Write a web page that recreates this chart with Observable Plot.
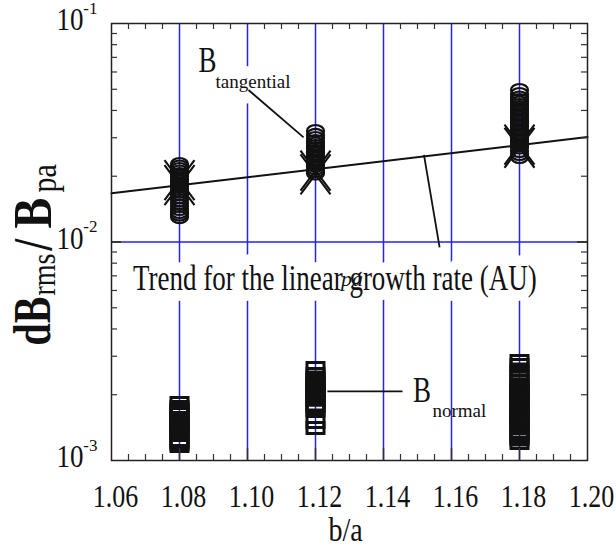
<!DOCTYPE html>
<html><head><meta charset="utf-8">
<script src="https://cdn.jsdelivr.net/npm/d3@7"></script>
<script src="https://cdn.jsdelivr.net/npm/@observablehq/plot@0.6"></script>
<style>html,body{margin:0;padding:0;background:#fff}</style>
</head><body><div id="chart"></div>
<script>
// ---- data ----
const xTicks = [1.06, 1.08, 1.10, 1.12, 1.14, 1.16, 1.18, 1.20];
const gridX = [1.08, 1.10, 1.12, 1.14, 1.16, 1.18];
const minorX = [1.065,1.07,1.075,1.085,1.09,1.095,1.105,1.11,1.115,1.125,1.13,1.135,1.145,1.15,1.155,1.165,1.17,1.175,1.185,1.19,1.195];
const yDecades = [0.1, 0.01, 0.001];
const yExponents = ["-1", "-2", "-3"];
const yMinor = [0.002,0.003,0.004,0.005,0.006,0.007,0.008,0.009,0.02,0.03,0.04,0.05,0.06,0.07,0.08,0.09];

const bA = [1.08, 1.12, 1.18];
// B tangential, open circles
const tanCircles = [
  [0.02275,0.02216,0.02158,0.02102,0.02047,0.01994,0.01942,0.01892,0.01842,0.01795,0.01748,0.01703,0.01659,0.01607,0.01557,0.01508,0.01462,0.01416,0.01372,0.01336,0.01301],
  [0.03221,0.03089,0.02992,0.02899,0.02823,0.0275,0.02679,0.02609,0.02541,0.02475,0.02411,0.02348,0.02287,0.02228,0.0217,0.02113,0.02058],
  [0.04963,0.04758,0.04585,0.04466,0.0435,0.04236,0.04126,0.04019,0.03914,0.03813,0.03714,0.03617,0.03523,0.03431,0.03342,0.03255,0.03171,0.03089,0.03008,0.0293,0.02854,0.0278,0.02707,0.02609,0.02528,0.02449]
];
// B tangential, crosses
const tanCrosses = [
  [0.0192, 0.0182],
  [0.0212, 0.0204],
  [0.0279, 0.0270]
];
// B normal, open squares
const normSquares = [
  [0.001833,0.001758,0.001721,0.001685,0.00165,0.001565,0.001532,0.0015,0.001469,0.001438,0.001408,0.001379,0.00135,0.001322,0.001241,0.001215,0.00119,0.001165],
  [0.002651,0.002489,0.002398,0.002348,0.002299,0.002251,0.002204,0.002158,0.002113,0.002069,0.002026,0.001984,0.001942,0.001902,0.001804,0.001767,0.00173,0.001694,0.0015,0.001408],
  [0.002854,0.002736,0.002609,0.002502,0.002398,0.002299,0.002204,0.002158,0.002113,0.002069,0.002026,0.001984,0.001942,0.001902,0.001862,0.001823,0.001712,0.001676,0.001641,0.001607,0.001573,0.00154,0.001508,0.001477,0.001446,0.001416,0.001329,0.001301,0.001274,0.001248,0.001202]
];
const trendX = [1.06, 1.20];
const trendY = [0.0167, 0.0302];

// annotation pointers
const ptrX1 = [1.1003, 1.1519, 1.1235];
const ptrY1 = [0.0496, 0.02505, 0.00207];
const ptrX2 = [1.1165, 1.1565, 1.1456];
const ptrY2 = [0.0301, 0.00944, 0.00207];

// ---- helpers ----
const flat = (xs, vs) => xs.flatMap((x, i) => vs[i].map(v => ({x, v})));
const circles = flat(bA, tanCircles);
const crosses = flat(bA, tanCrosses);
const squares = flat(bA, normSquares);
const trend = trendX.map((x, i) => ({x, y: trendY[i]}));
const pointers = ptrX1.map((x, i) => ({x1: x, y1: ptrY1[i], x2: ptrX2[i], y2: ptrY2[i]}));

const K = 0.5523;
const ellipseSymbol = {draw(c) {
  const rx = 8.5, ry = 6;
  c.moveTo(rx, 0);
  c.bezierCurveTo(rx, ry*K, rx*K, ry, 0, ry);
  c.bezierCurveTo(-rx*K, ry, -rx, ry*K, -rx, 0);
  c.bezierCurveTo(-rx, -ry*K, -rx*K, -ry, 0, -ry);
  c.bezierCurveTo(rx*K, -ry, rx, -ry*K, rx, 0);
  c.closePath();
}};
const crossSymbol = {draw(c) {
  c.moveTo(-15, -20); c.lineTo(15, 20);
  c.moveTo(-15, 20); c.lineTo(15, -20);
}};
const rectSymbol = {draw(c) { c.rect(-8.5, -5.5, 17, 11); }};

const W = 616, H = 553, ML = 111, MR = 29, MT = 23, MB = 93;
const innerW = W - ML - MR, innerH = H - MT - MB;
const midY = MT + innerH / 2;
const blue = "#2222f2", ink = "#111";
const serif = "'Liberation Serif', 'Times New Roman', serif";
const st = s => () => "stretch:" + s;

const svg = Plot.plot({
  width: W, height: H,
  marginLeft: ML, marginRight: MR, marginTop: MT, marginBottom: MB,
  style: {background: "#fff", fontFamily: serif, fontSize: "26px", color: ink},
  x: {domain: [1.06, 1.20], axis: null},
  y: {type: "log", domain: [0.001, 0.1], axis: null},
  marks: [
    Plot.ruleX(gridX, {stroke: blue, strokeWidth: 1.5}),
    Plot.ruleY([0.01], {stroke: blue, strokeWidth: 1.5, insetLeft: 10, insetRight: 10}),
    Plot.line(trend, {x: "x", y: "y", stroke: ink, strokeWidth: 2}),
    // annotation texts
    Plot.text(["Trend for the linear growth rate (AU)"], {x: 1.1257, y: 0.00684, text: d => d, fontFamily: serif, fontSize: 27, textAnchor: "middle", lineAnchor: "middle", fill: ink, stroke: "white", strokeWidth: 16, paintOrder: "stroke", ariaLabel: st(1.35)}),
    Plot.text(["pa"], {x: 1.1307, y: 0.00674, text: d => d, fontFamily: serif, fontSize: 22, fontStyle: "italic", textAnchor: "middle", lineAnchor: "middle", fill: ink}),
    Plot.text(["tangential"], {x: 1.0906, y: 0.0543, text: d => d, fontFamily: serif, fontSize: 19, textAnchor: "start", lineAnchor: "middle", fill: ink, stroke: "white", strokeWidth: 24, paintOrder: "stroke"}),
    Plot.text(["B"], {x: 1.0882, y: 0.0681, text: d => d, fontFamily: serif, fontSize: 27, textAnchor: "middle", lineAnchor: "middle", fill: ink, ariaLabel: st(1.35)}),
    Plot.text(["B"], {x: 1.1513, y: 0.0021, text: d => d, fontFamily: serif, fontSize: 27, textAnchor: "middle", lineAnchor: "middle", fill: ink, ariaLabel: st(1.35)}),
    Plot.text(["normal"], {x: 1.1544, y: 0.00169, text: d => d, fontFamily: serif, fontSize: 19, textAnchor: "start", lineAnchor: "middle", fill: ink}),
    Plot.link(pointers, {x1: "x1", y1: "y1", x2: "x2", y2: "y2", stroke: ink, strokeWidth: 1.8}),
    // data markers
    Plot.dot(squares, {x: "x", y: "v", symbol: rectSymbol, fill: "none", stroke: ink, strokeWidth: 3}),
    Plot.dot(circles, {x: "x", y: "v", symbol: ellipseSymbol, fill: "none", stroke: ink, strokeWidth: 2.2}),
    Plot.dot(crosses, {x: "x", y: "v", symbol: crossSymbol, fill: "none", stroke: ink, strokeWidth: 2.1}),
    // frame and inward ticks
    Plot.frame({stroke: "#222", strokeWidth: 1.5}),
    Plot.tickX(minorX, {x: d => d, stroke: "#333", strokeWidth: 1.2, insetTop: innerH - 6}),
    Plot.tickX(minorX, {x: d => d, stroke: "#333", strokeWidth: 1.2, insetBottom: innerH - 6}),
    Plot.tickX(gridX, {x: d => d, stroke: "#333", strokeWidth: 1.5, insetTop: innerH - 12}),
    Plot.tickY(yMinor, {y: d => d, stroke: "#333", strokeWidth: 1.2, insetRight: innerW - 6}),
    Plot.tickY(yMinor, {y: d => d, stroke: "#333", strokeWidth: 1.2, insetLeft: innerW - 6}),
    Plot.tickY([0.01], {y: d => d, stroke: "#222", strokeWidth: 1.8, insetRight: innerW - 10}),
    Plot.tickY([0.01], {y: d => d, stroke: "#222", strokeWidth: 1.8, insetLeft: innerW - 10}),
    // x tick labels
    Plot.text(xTicks, {x: d => d, frameAnchor: "bottom", dx: 4, dy: 36.5, text: d => d3.format(".2f")(d), fontFamily: serif, fontSize: 26, textAnchor: "middle", lineAnchor: "middle", fill: ink, ariaLabel: st(1.2)}),
    // y tick labels 10^n
    Plot.text(yDecades, {y: d => d, frameAnchor: "left", dx: -28, dy: -3, text: () => "10", fontFamily: serif, fontSize: 27, textAnchor: "end", lineAnchor: "middle", fill: ink, ariaLabel: st(1.15)}),
    Plot.text(yDecades, {y: d => d, frameAnchor: "left", dx: -14, dy: -15, text: (d, i) => yExponents[i], fontFamily: serif, fontSize: 17, textAnchor: "end", lineAnchor: "middle", fill: ink}),
    // axis titles
    Plot.text(["b/a"], {frameAnchor: "bottom", dx: -4, dy: 70, text: d => d, fontFamily: serif, fontSize: 28, textAnchor: "middle", lineAnchor: "middle", fill: ink, ariaLabel: st(1.2)}),
    Plot.text(["dB"], {frameAnchor: "left", dx: 33 - ML, dy: 345 - midY, rotate: -90, text: d => d, fontFamily: serif, fontSize: 40, fontWeight: "bold", textAnchor: "start", lineAnchor: "middle", fill: ink, ariaLabel: st(1.3)}),
    Plot.text(["rms"], {frameAnchor: "left", dx: 44 - ML, dy: 295 - midY, rotate: -90, text: d => d, fontFamily: serif, fontSize: 28, textAnchor: "start", lineAnchor: "middle", fill: ink, ariaLabel: st(1.2)}),
    Plot.text(["/"], {frameAnchor: "left", dx: 33 - ML, dy: 250 - midY, rotate: -90, text: d => d, fontFamily: serif, fontSize: 42, fontWeight: "bold", textAnchor: "start", lineAnchor: "middle", fill: ink, ariaLabel: st(1.3)}),
    Plot.text(["B"], {frameAnchor: "left", dx: 33 - ML, dy: 228 - midY, rotate: -90, text: d => d, fontFamily: serif, fontSize: 46, fontWeight: "bold", textAnchor: "start", lineAnchor: "middle", fill: ink, ariaLabel: st(1.2)}),
    Plot.text(["pa"], {frameAnchor: "left", dx: 44 - ML, dy: 192 - midY, rotate: -90, text: d => d, fontFamily: serif, fontSize: 30, textAnchor: "start", lineAnchor: "middle", fill: ink, ariaLabel: st(1.2)})
  ]
});

document.getElementById("chart").appendChild(svg);

// stretch glyphs across their baseline (the original figure's lettering is tall and narrow),
// keeping each text's box centre fixed
svg.querySelectorAll('[aria-label^="stretch:"]').forEach(node => {
  const s = +node.getAttribute("aria-label").split(":")[1];
  const targets = node.tagName.toLowerCase() === "text" ? [node] : Array.from(node.querySelectorAll("text"));
  for (const t of targets) {
    const bb = t.getBBox();
    const cy = bb.y + bb.height / 2;
    const tr = t.getAttribute("transform") || "";
    t.setAttribute("transform", `${tr} translate(0,${cy}) scale(1,${s}) translate(0,${-cy})`);
  }
});
</script>
</body></html>
